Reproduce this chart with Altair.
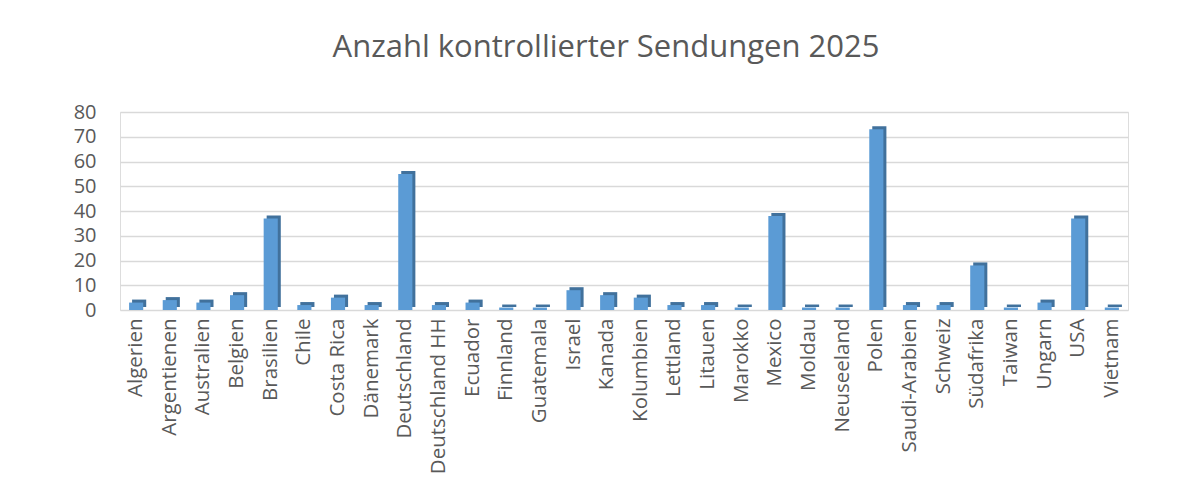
import altair as alt
import pandas as pd

countries = ["Algerien", "Argentienen", "Australien", "Belgien", "Brasilien", "Chile",
             "Costa Rica", "Dänemark", "Deutschland", "Deutschland HH", "Ecuador",
             "Finnland", "Guatemala", "Israel", "Kanada", "Kolumbien", "Lettland",
             "Litauen", "Marokko", "Mexico", "Moldau", "Neuseeland", "Polen",
             "Saudi-Arabien", "Schweiz", "Südafrika", "Taiwan", "Ungarn", "USA", "Vietnam"]
values = [3, 4, 3, 6, 37, 2, 5, 2, 55, 2, 3, 1, 1, 8, 6, 5, 2, 2, 1, 38, 1, 1, 73,
          2, 2, 18, 1, 3, 37, 1]
y_ticks = [0, 10, 20, 30, 40, 50, 60, 70, 80]

df = pd.DataFrame({"Land": countries, "Anzahl": values})

FONT = "Open Sans"
GREY = "#595959"

x = alt.X("Land:N", sort=countries, title=None,
          scale=alt.Scale(paddingInner=0.58, paddingOuter=0.27),
          axis=alt.Axis(labelAngle=-90, labelFontSize=20.5, labelColor=GREY, labelFont=FONT,
                        labelPadding=8, ticks=False, domain=False, grid=False,
                        labelAlign="right", labelBaseline="middle"))
y = alt.Y("Anzahl:Q", title=None, scale=alt.Scale(domain=[0, 80]),
          axis=alt.Axis(values=y_ticks, labelFontSize=20, labelColor=GREY, labelFont=FONT,
                        labelPadding=24, ticks=False, domain=False,
                        gridColor="#D9D9D9", gridWidth=1.5))

base = alt.Chart(df)
side = base.mark_bar(color="#41719C", xOffset=3, yOffset=-3).encode(x=x, y=y)
front = base.mark_bar(color="#5B9BD5").encode(x=x, y=y)

chart = (side + front).properties(
    width=1008, height=198,
    title=alt.TitleParams("Anzahl kontrollierter Sendungen 2025", fontSize=31,
                          font=FONT, fontWeight="normal", color=GREY, offset=38,
                          anchor="middle", dx=-18),
    autosize=alt.AutoSizeParams(type="none"),
    padding={"left": 112, "top": 104, "right": 64, "bottom": 175},
).configure_view(stroke=None).configure(background="white")

chart.save("out.html", embed_options={"renderer": "svg", "actions": False})
